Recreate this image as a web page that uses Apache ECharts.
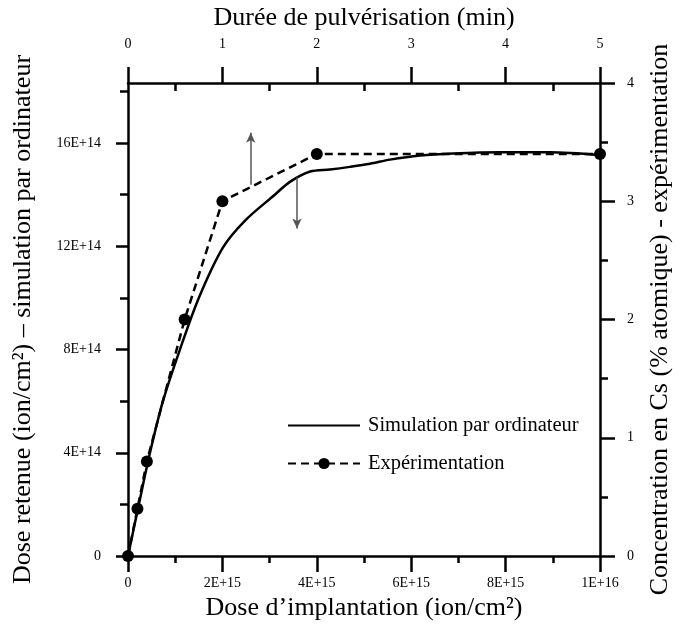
<!DOCTYPE html>
<html><head><meta charset="utf-8">
<script src="https://cdn.jsdelivr.net/npm/echarts@6/dist/echarts.min.js"></script>
<style>html,body{margin:0;padding:0;background:#fff}#c{width:679px;height:632px}</style>
</head><body><div id="c"></div>
<script>
// Simulation (bottom axis: dose, left axis: retained dose)
const simDose = [0, 2.3e14, 4.66e14, 7.4e14, 1.1e15, 1.5e15, 2.01e15, 2.48e15, 3.11e15, 3.43e15, 3.86e15, 4.28e15, 4.70e15, 5.13e15, 5.55e15, 6.19e15, 6.89e15, 7.88e15, 8.94e15, 1e16];
const simRetained = [0, 2e14, 4e14, 6e14, 8e14, 10e14, 11.95e14, 13e14, 14e14, 14.5e14, 14.9e14, 14.98e14, 15.08e14, 15.2e14, 15.36e14, 15.52e14, 15.6e14, 15.65e14, 15.65e14, 15.54e14];
// Experiment (top axis: minutes, right axis: concentration %)
const expMinutes = [0, 0.1, 0.2, 0.6, 1, 2, 5];
const expConc = [0, 0.4, 0.8, 2.0, 3.0, 3.4, 3.4];
// Tick labels
const bottomTickLabels = ['0', '2E+15', '4E+15', '6E+15', '8E+15', '1E+16'];
const leftTickValues = [0, 4e14, 8e14, 12e14, 16e14];
const leftTickLabels = ['0', '4E+14', '8E+14', '12E+14', '16E+14'];
const leftMinorTicks = [2e14, 6e14, 10e14, 14e14, 18e14];
const topMinorTicks = [0.5, 1.5, 2.5, 3.5, 4.5];
// Annotation arrows (minutes, concentration from -> to)
const arrowMinutes = [1.3, 1.79];
const arrowFrom = [3.14, 3.2];
const arrowTo = [3.58, 2.77];

const FONT = 'Liberation Serif';
const axisLineStyle = { show: true, onZero: false, lineStyle: { color: '#000', width: 2.5 } };
const tickLine = { color: '#000', width: 2.5 };
const titleStyle = { fontFamily: FONT, fontSize: 26, color: '#000' };
const tickFont = { fontFamily: FONT, fontSize: 14, color: '#000' };

const chart = echarts.init(document.getElementById('c'), null, { renderer: 'canvas' });
chart.setOption({
  backgroundColor: '#fff',
  animation: false,
  grid: { left: 128, right: 79, top: 83, bottom: 76, containLabel: false, outerBoundsMode: 'none' },
  legend: {
    orient: 'vertical', left: 282, top: 410, itemWidth: 72, itemHeight: 14, itemGap: 17,
    textStyle: { fontFamily: FONT, fontSize: 20.5, color: '#000', padding: [0, 0, 0, 3] },
    data: [
      { name: 'Simulation par ordinateur', itemStyle: { opacity: 0 } },
      { name: 'Expérimentation' }
    ]
  },
  xAxis: [
    {
      type: 'value', position: 'bottom', min: 0, max: 1e16, interval: 2e15,
      name: 'Dose d\u2019implantation (ion/cm\u00b2)', nameLocation: 'middle', nameGap: 39, nameMoveOverlap: false,
      nameTextStyle: titleStyle,
      axisLine: axisLineStyle,
      axisTick: { show: true, length: 16, lineStyle: tickLine },
      minorTick: { show: true, splitNumber: 2, length: 7, lineStyle: tickLine },
      axisLabel: Object.assign({ margin: 20, formatter: v => bottomTickLabels[Math.round(v / 2e15)] }, tickFont),
      splitLine: { show: false }
    },
    {
      type: 'value', position: 'top', min: 0, max: 5, interval: 1,
      name: 'Durée de pulvérisation (min)', nameLocation: 'middle', nameGap: 52, nameMoveOverlap: false,
      nameTextStyle: titleStyle,
      axisLine: axisLineStyle,
      axisTick: { show: true, length: 16, lineStyle: tickLine },
      axisLabel: Object.assign({ margin: 32 }, tickFont),
      splitLine: { show: false }
    },
    {
      type: 'value', position: 'top', min: 0, max: 5,
      axisLine: { show: false, onZero: false },
      axisTick: { show: true, inside: true, length: 8, lineStyle: tickLine, customValues: topMinorTicks },
      axisLabel: { show: false },
      splitLine: { show: false }
    }
  ],
  yAxis: [
    {
      type: 'value', position: 'left', min: 0, max: 1.833e15,
      name: 'Dose retenue (ion/cm\u00b2) \u2013 simulation par ordinateur', nameLocation: 'middle', nameGap: 92, nameRotate: 90, nameMoveOverlap: false,
      nameTextStyle: titleStyle,
      axisLine: axisLineStyle,
      axisTick: { show: true, length: 12, lineStyle: tickLine, customValues: leftTickValues },
      axisLabel: Object.assign({ margin: 27, customValues: leftTickValues,
        formatter: v => leftTickLabels[Math.round(v / 4e14)] }, tickFont),
      splitLine: { show: false }
    },
    {
      type: 'value', position: 'left', min: 0, max: 1.833e15,
      axisLine: { show: false, onZero: false },
      axisTick: { show: true, length: 8, lineStyle: tickLine, customValues: leftMinorTicks },
      axisLabel: { show: false },
      splitLine: { show: false }
    },
    {
      type: 'value', position: 'right', min: 0, max: 4, interval: 1,
      name: 'Concentration en Cs (% atomique) - expérimentation', nameLocation: 'middle', nameGap: 47, nameRotate: 90, nameMoveOverlap: false,
      nameTextStyle: titleStyle,
      axisLine: axisLineStyle,
      axisTick: { show: true, length: 15, lineStyle: tickLine },
      minorTick: { show: true, splitNumber: 2, length: 8, lineStyle: tickLine },
      axisLabel: Object.assign({ margin: 27 }, tickFont),
      splitLine: { show: false }
    }
  ],
  series: [
    {
      name: 'Simulation par ordinateur', type: 'line', xAxisIndex: 0, yAxisIndex: 0,
      data: simDose.map((d, i) => [d, simRetained[i]]),
      showSymbol: false, symbol: 'none', smooth: 0.3,
      lineStyle: { color: '#000', width: 2.5, type: 'solid' },
      itemStyle: { color: '#000' }, z: 3
    },
    {
      name: 'Expérimentation', type: 'line', xAxisIndex: 1, yAxisIndex: 2,
      data: expMinutes.map((m, i) => [m, expConc[i]]),
      symbol: 'circle', symbolSize: 12,
      lineStyle: { color: '#000', width: 2.5, type: [8, 5] },
      itemStyle: { color: '#000' }, z: 4,
      markLine: {
        silent: true, symbol: ['none', 'arrow'], symbolSize: [7, 10],
        label: { show: false },
        lineStyle: { color: '#555', width: 1.5, type: 'solid' },
        data: arrowMinutes.map((m, i) => [{ coord: [m, arrowFrom[i]] }, { coord: [m, arrowTo[i]] }])
      }
    }
  ]
});
</script></body></html>
